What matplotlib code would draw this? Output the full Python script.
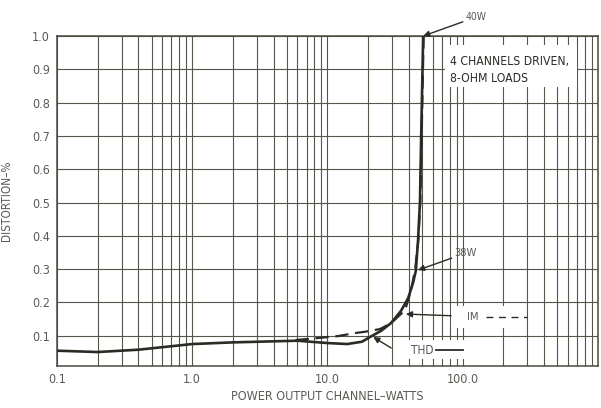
import numpy as np
import matplotlib
matplotlib.use('Agg')
import matplotlib.pyplot as plt
from matplotlib.ticker import LogLocator, FixedLocator, NullFormatter
from matplotlib.patches import Rectangle

# THD curve (solid)
thd_watts = [0.1, 0.2, 0.4, 1.0, 2.0, 6.0, 10.0, 14.0, 18.0, 21.0, 25.0,
             29.5, 35.0, 39.5, 43.0, 45.0, 46.7, 48.3, 49.3, 51.0]
thd_pct = [0.055, 0.051, 0.058, 0.075, 0.080, 0.085, 0.078, 0.075, 0.082,
           0.098, 0.115, 0.138, 0.175, 0.213, 0.26, 0.295, 0.385, 0.505,
           0.705, 1.0]

# IM curve (dashed), splits from THD around 6 W and merges again near 45 W
im_watts = [5.8, 8.0, 12.0, 16.0, 19.0, 24.5, 29.6, 37.5, 41.5, 44.5, 46.9,
            48.6, 49.7, 51.4]
im_pct = [0.087, 0.092, 0.099, 0.108, 0.112, 0.120, 0.138, 0.177, 0.237,
          0.30, 0.385, 0.505, 0.705, 1.0]

xtick_vals = [0.1, 1.0, 10.0, 100.0]
xtick_labels = ['0.1', '1.0', '10.0', '100.0']
ytick_vals = [0.1, 0.2, 0.3, 0.4, 0.5, 0.6, 0.7, 0.8, 0.9, 1.0]

ink = '#2b2b26'
grey = '#5a5a55'
plt.rcParams['font.family'] = ['DejaVu Sans']
plt.rcParams['font.stretch'] = 'condensed'

fig = plt.figure(figsize=(6.01, 4.08), dpi=100)
ax = fig.add_axes([0.0948, 0.1029, 0.9002, 0.8088])
ax.set_xscale('log')
ax.set_xlim(0.1, 1000)
ax.set_ylim(0.009, 1.0)

ax.xaxis.set_major_locator(FixedLocator(xtick_vals))
ax.set_xticklabels(xtick_labels)
ax.xaxis.set_minor_locator(LogLocator(base=10, subs=np.arange(2, 10)))
ax.xaxis.set_minor_formatter(NullFormatter())
ax.set_yticks(ytick_vals)
ax.set_yticklabels(['%.1f' % v for v in ytick_vals])
ax.tick_params(which='both', length=0, labelsize=9, colors=grey, pad=5)

ax.set_axisbelow(True)
ax.grid(which='both', color='#55554a', lw=0.8)
for s in ax.spines.values():
    s.set_color('#4a4a40')
    s.set_linewidth(1.1)

# white panels behind the labels, covering the grid
for (x0, x1, y0, y1) in [(73.8, 701, 0.847, 0.973),
                         (81.7, 290, 0.123, 0.189),
                         (36.2, 105, 0.030, 0.087)]:
    ax.add_patch(Rectangle((x0, y0), x1 - x0, y1 - y0, facecolor='white',
                           edgecolor='none', zorder=1))

ax.plot(thd_watts, thd_pct, color=ink, lw=1.9, zorder=3)
ax.plot(im_watts, im_pct, color=ink, lw=1.6, ls=(0, (6, 3)), zorder=3)

ax.text(80, 0.925, '4 CHANNELS DRIVEN,', fontsize=8.7, color=ink,
        va='center', zorder=4)
ax.text(80, 0.873, '8-OHM LOADS', fontsize=8.7, color=ink, va='center',
        zorder=4)

arrow = dict(arrowstyle='-|>', color=ink, lw=1.0, mutation_scale=9,
             shrinkA=0, shrinkB=0)
ax.annotate('40W', xy=(51, 1.0), xytext=(105, 1.057), fontsize=7.5,
            color=grey, va='center', annotation_clip=False,
            arrowprops=arrow)
ax.annotate('38W', xy=(46.7, 0.297), xytext=(87, 0.348), fontsize=8,
            color=grey, va='center', arrowprops=arrow)
ax.annotate('', xy=(38, 0.165), xytext=(82, 0.160), arrowprops=arrow)
ax.text(107, 0.157, 'IM', fontsize=8, color=grey, va='center')
ax.plot([148, 300], [0.157, 0.157], color=ink, lw=1.0, ls=(0, (5, 4)))
ax.annotate('', xy=(21.8, 0.096), xytext=(29.6, 0.063), arrowprops=arrow)
ax.text(41.5, 0.057, 'THD', fontsize=8.5, color=grey, va='center')
ax.plot([63, 100], [0.057, 0.057], color=ink, lw=1.3)

ax.set_xlabel('POWER OUTPUT CHANNEL\u2013WATTS', fontsize=9, color=grey,
              labelpad=3)
ax.set_ylabel('DISTORTION\u2013%', fontsize=8.5, color=grey, labelpad=14)

fig.savefig('out.png', dpi=100, facecolor='white')
